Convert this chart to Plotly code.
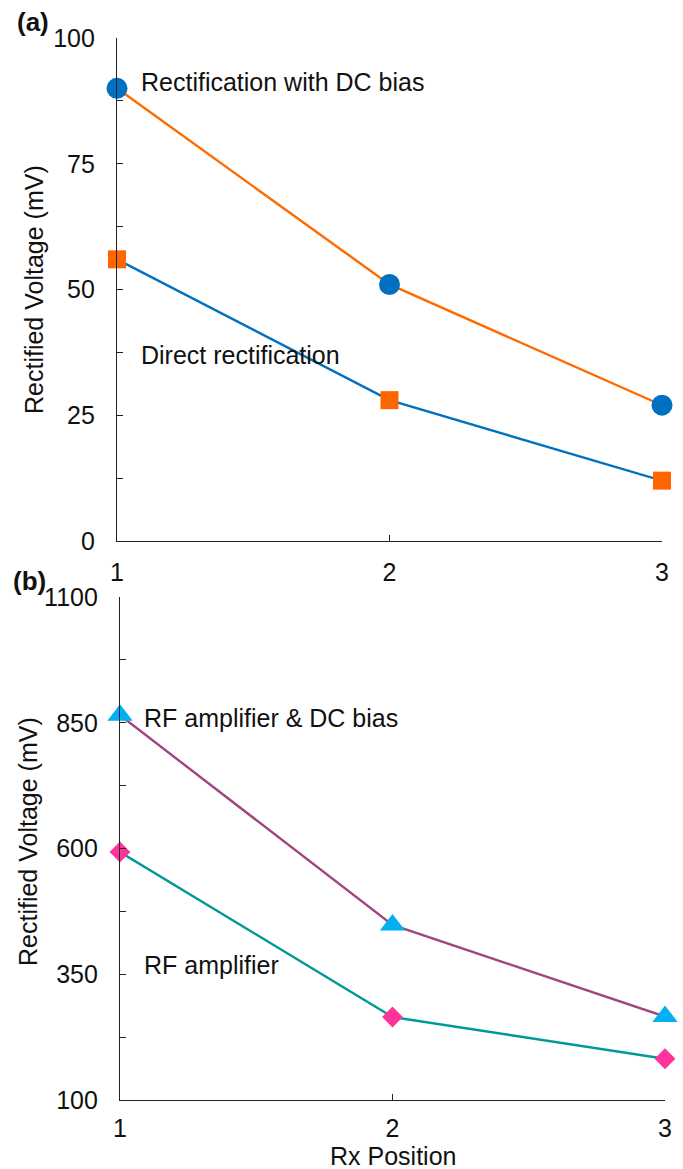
import plotly.graph_objects as go

# ---- data ----
rx_positions = [1, 2, 3]
dc_bias_mv = [90, 51, 27]          # Rectification with DC bias
direct_mv = [56, 28, 12]           # Direct rectification
rf_dc_bias_mv = [865, 448, 266]    # RF amplifier & DC bias
rf_amp_mv = [593, 265, 182]        # RF amplifier

W, H = 683, 1169
FONT = "Liberation Sans, Arial, sans-serif"

def px(x):
    return x / W

def py(y):
    return 1 - y / H

fig = go.Figure()

# top panel
fig.add_trace(go.Scatter(x=rx_positions, y=dc_bias_mv, mode="lines+markers",
                         line=dict(color="#FF6A00", width=2.4),
                         marker=dict(symbol="circle", size=21, color="#0070C0"),
                         xaxis="x", yaxis="y", cliponaxis=False, showlegend=False))
fig.add_trace(go.Scatter(x=rx_positions, y=direct_mv, mode="lines+markers",
                         line=dict(color="#0070C0", width=2.4),
                         marker=dict(symbol="square", size=18, color="#FF6600"),
                         xaxis="x", yaxis="y", cliponaxis=False, showlegend=False))
# bottom panel
fig.add_trace(go.Scatter(x=rx_positions, y=rf_dc_bias_mv, mode="lines+markers",
                         line=dict(color="#A0457F", width=2.4),
                         marker=dict(symbol="triangle-up", size=22, color="#00B0F0"),
                         xaxis="x2", yaxis="y2", cliponaxis=False, showlegend=False))
fig.add_trace(go.Scatter(x=rx_positions, y=rf_amp_mv, mode="lines+markers",
                         line=dict(color="#009999", width=2.4),
                         marker=dict(symbol="diamond", size=16, color="#FF3399"),
                         xaxis="x2", yaxis="y2", cliponaxis=False, showlegend=False))

axis_common = dict(showgrid=False, zeroline=False, showline=True, linecolor="#222",
                   linewidth=1.3, ticks="inside", ticklen=6, tickwidth=1.3,
                   tickcolor="#222", automargin=False,
                   tickfont=dict(family=FONT, size=25, color="#111"))

fig.update_layout(
    width=W, height=H, margin=dict(l=0, r=0, t=0, b=0, pad=0), autosize=False,
    paper_bgcolor="white", plot_bgcolor="white",
    font=dict(family=FONT, color="#111"),
    xaxis=dict(axis_common, domain=[px(117), px(662)], range=[1, 3],
               tickvals=[1, 2, 3], anchor="y", ticklabelstandoff=9),
    yaxis=dict(axis_common, domain=[py(541), py(38)], range=[0, 100],
               tickvals=[0, 25, 50, 75, 100], anchor="x", ticklabelstandoff=16,
               minor=dict(tickvals=[12.5, 37.5, 62.5, 87.5], ticks="inside",
                          ticklen=6, tickwidth=1.3, tickcolor="#222")),
    xaxis2=dict(axis_common, domain=[px(120), px(665)], range=[1, 3],
                tickvals=[1, 2, 3], anchor="y2", ticklabelstandoff=6),
    yaxis2=dict(axis_common, domain=[py(1100), py(597)], range=[100, 1100],
                tickvals=[100, 350, 600, 850, 1100], anchor="x2", ticklabelstandoff=16,
                minor=dict(tickvals=[225, 475, 725, 975], ticks="inside",
                           ticklen=6, tickwidth=1.3, tickcolor="#222")),
)

ann_font = dict(family=FONT, size=25, color="#111")
annotations = [
    dict(text="Rectification with DC bias", x=1.08, y=91.3, xref="x", yref="y",
         xanchor="left", yanchor="middle", showarrow=False, font=ann_font),
    dict(text="Direct rectification", x=1.08, y=37.0, xref="x", yref="y",
         xanchor="left", yanchor="middle", showarrow=False, font=ann_font),
    dict(text="RF amplifier &amp; DC bias", x=1.08, y=859, xref="x2", yref="y2",
         xanchor="left", yanchor="middle", showarrow=False, font=ann_font),
    dict(text="RF amplifier", x=1.08, y=368, xref="x2", yref="y2",
         xanchor="left", yanchor="middle", showarrow=False, font=ann_font),
    dict(text="<b>(a)</b>", x=px(15), y=py(22), xref="paper", yref="paper",
         xanchor="left", yanchor="middle", showarrow=False,
         font=dict(family=FONT, size=26, color="#111")),
    dict(text="<b>(b)</b>", x=px(11), y=py(581), xref="paper", yref="paper",
         xanchor="left", yanchor="middle", showarrow=False,
         font=dict(family=FONT, size=26, color="#111")),
    dict(text="Rectified Voltage (mV)", x=px(34), y=py(290), xref="paper", yref="paper",
         textangle=-90, xanchor="center", yanchor="middle", showarrow=False, font=ann_font),
    dict(text="Rectified Voltage (mV)", x=px(28), y=py(842), xref="paper", yref="paper",
         textangle=-90, xanchor="center", yanchor="middle", showarrow=False, font=ann_font),
    dict(text="Rx Position", x=px(393), y=py(1156), xref="paper", yref="paper",
         xanchor="center", yanchor="middle", showarrow=False, font=ann_font),
]
fig.update_layout(annotations=annotations)

fig.write_html("out.html")
